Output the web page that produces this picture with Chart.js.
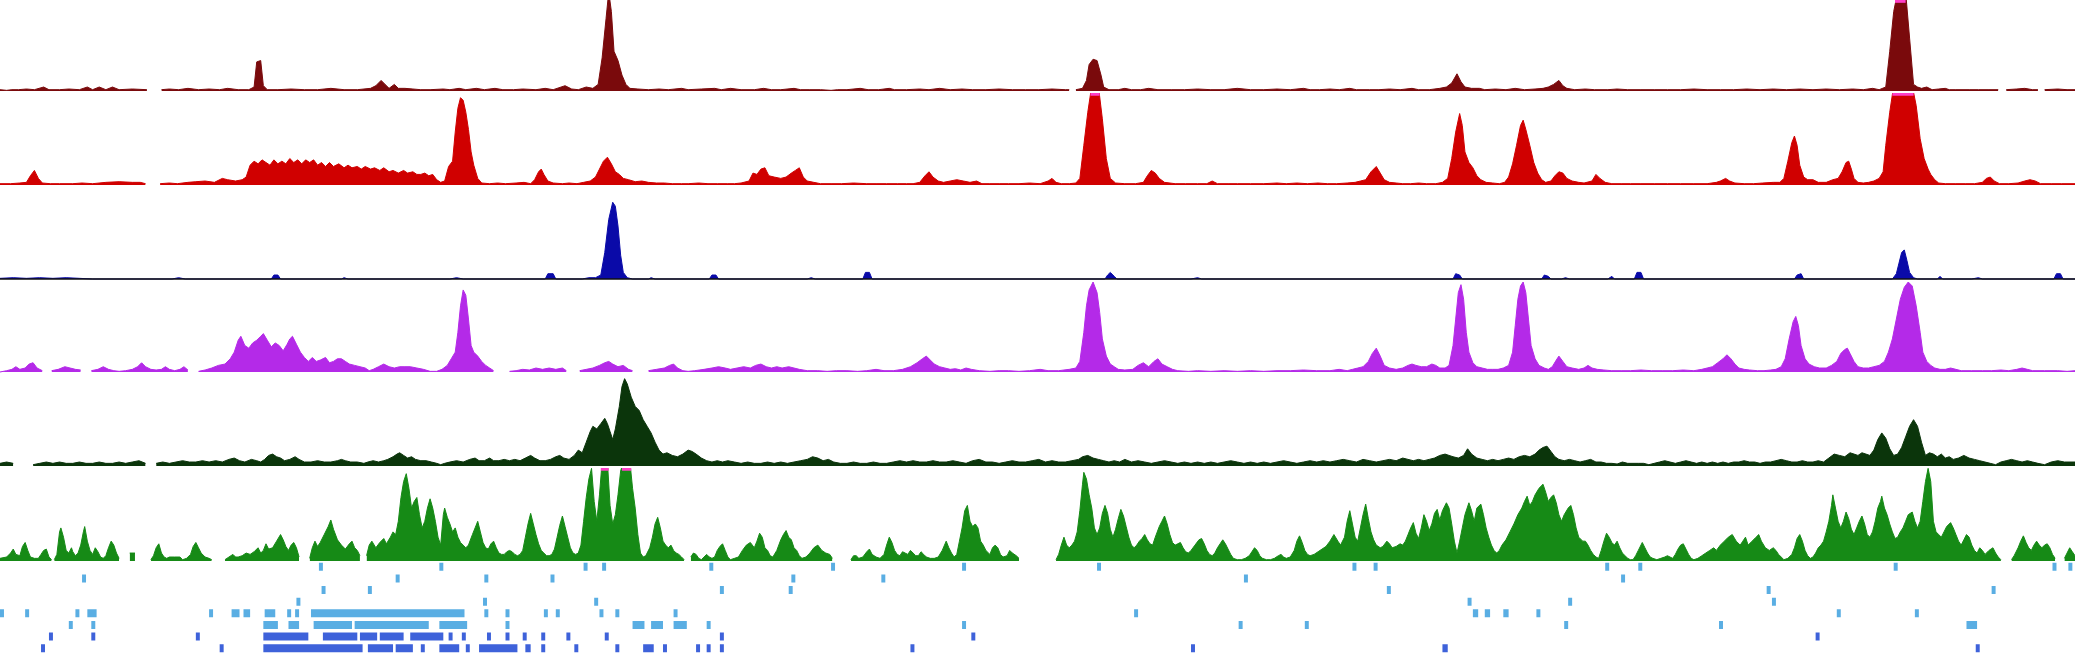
<!DOCTYPE html>
<html>
<head>
<meta charset="utf-8">
<title>Signal tracks</title>
<script src="https://cdn.jsdelivr.net/npm/chart.js@4.4.1/dist/chart.umd.min.js"></script>
<style>
  body { margin: 0; background: #fff; }
  #wrap { position: relative; width: 2075px; height: 654px; overflow: hidden; background: #fff; }
  #wrap canvas { position: absolute; left: 0; }
</style>
</head>
<body>
<div id="wrap"></div>
<script>
// x = position along the region (0 - 1568), y = track signal, null = no data

const maroonTrack = [[0,1],[5,0.5],[9,1],[14,1],[20,1.5],[26,1],[33,3],[37,1],[45,1],[52,1.5],[60,1],[66,3],[70,1],[75,3],[80,1],[85,3],[90,1],[100,1.5],[111,1],[112,null],[122,1],[128,1.5],[135,1],[142,2],[150,1],[158,1.5],[166,1],[172,2],[180,1],[188,1],[192,3],[194,22],[197,23],[199,4],[202,1],[210,1],[220,1.5],[230,1],[240,1],[250,2],[260,1],[270,1],[280,2],[284,4],[288,8],[291,5],[294,2],[298,5],[301,2],[306,2],[312,1.5],[318,1],[325,1],[335,1.5],[340,1],[347,2],[352,1],[360,2],[366,1],[374,2],[380,1],[388,1],[395,1.5],[405,1],[412,2],[418,1],[427,4],[432,1.5],[437,1],[443,3],[448,2],[452,5],[455,25],[458,55],[460,75],[462,60],[464,30],[467,23],[470,12],[473,5],[476,2],[482,1.5],[490,1],[498,1.5],[505,1],[515,2],[520,1],[530,1.5],[540,2],[545,1],[552,2],[560,1],[570,1],[577,2],[583,1],[590,1],[600,2],[605,1],[612,1],[620,1],[628,0.5],[633,1],[640,1],[650,2],[656,1],[664,1],[672,2],[676,1],[685,1],[695,1.5],[702,1],[710,2],[718,1],[727,1.5],[735,1],[745,1],[755,1.5],[765,1],[775,1],[785,1],[795,1.5],[805,1],[808,1],[809,null],[813,1],[818,2],[821,8],[823,20],[826,24],[829,23],[832,12],[834,3],[838,1],[845,1],[850,2],[855,1],[862,1],[868,2],[875,1],[885,1],[895,1],[905,1.5],[915,1],[925,1],[935,2],[945,1],[955,1],[965,1.5],[975,1],[985,2],[990,1],[997,1],[1005,1.5],[1012,1],[1020,2],[1025,1],[1035,1],[1042,1],[1050,1.5],[1058,1],[1067,2],[1072,1],[1080,1],[1088,2],[1093,3],[1097,6],[1101,13],[1104,7],[1107,3],[1112,2],[1118,2],[1122,1],[1130,1.5],[1138,1],[1145,2],[1152,1],[1160,1.5],[1166,2],[1170,3],[1174,5],[1178,8],[1181,4],[1184,2],[1190,1],[1198,1.5],[1205,1],[1215,1],[1222,1.5],[1230,1],[1240,1],[1250,1],[1260,1],[1270,1],[1280,1.5],[1290,1],[1300,1],[1310,1],[1320,1.5],[1330,1],[1340,1.5],[1350,1],[1360,1.5],[1370,1],[1380,1.5],[1390,1],[1400,1.5],[1408,1],[1415,2],[1420,1],[1425,3],[1428,30],[1431,60],[1434,75],[1440,75],[1443,40],[1446,5],[1449,3],[1452,2],[1456,3],[1460,1],[1465,1.5],[1470,2],[1473,1],[1478,1],[1488,1],[1495,1],[1503,1],[1510,1],[1513,null],[1516,1],[1524,1.5],[1530,2],[1536,1],[1540,1],[1542,null],[1545,1],[1555,1.5],[1562,1],[1568,1]];

const redTrack = [[0,1],[8,1],[15,1.5],[20,2],[23,7],[26,11],[29,5],[32,1.5],[38,1],[45,1],[55,1],[62,1.5],[70,1],[80,2],[90,2.5],[100,2],[106,2],[110,1],[112,null],[121,1],[128,1.5],[134,1],[142,2],[148,2.5],[155,3],[162,2],[168,5],[172,4],[178,3],[183,4],[186,6],[189,15],[192,18],[195,16],[198,19],[201,17],[204,15],[207,19],[210,16],[213,18],[216,16],[219,20],[222,17],[225,19],[228,16],[231,19],[234,17],[237,19],[240,15],[243,17],[246,14],[249,17],[252,14],[256,16],[260,13],[263,15],[266,13],[270,14],[273,12],[276,14],[280,12],[283,13],[287,11],[290,13],[294,10],[297,11],[301,9],[305,11],[308,9],[312,10],[315,8],[318,8],[321,9],[324,7],[327,8],[330,4],[333,2],[336,3],[339,14],[342,18],[344,40],[346,58],[348,66],[350,64],[352,55],[354,42],[356,25],[358,15],[361,5],[364,1.5],[370,1],[376,1.5],[382,1],[390,1.5],[396,2],[401,1],[404,4],[407,10],[409,12],[411,8],[414,3],[418,1.5],[425,1],[430,1.5],[436,1],[441,2],[446,3],[450,6],[453,12],[456,18],[459,21],[462,16],[465,10],[468,8],[471,5],[475,4],[480,2.5],[485,3],[490,2],[496,1.5],[502,1.5],[508,1],[515,1],[520,1],[528,1.5],[535,1],[542,1],[550,1],[555,1],[560,1.5],[566,3],[569,9],[572,8],[575,12],[578,13],[581,7],[585,6],[590,5],[594,6],[598,9],[601,11],[604,13],[607,6],[610,3],[615,2],[620,1],[628,1],[636,1],[645,1.5],[655,1],[662,1],[670,1],[678,1],[685,1],[690,1],[695,2],[699,7],[702,10],[705,6],[709,3],[713,2],[718,3],[723,4],[728,3],[733,2],[738,3],[742,1],[748,1],[755,1],[762,1],[770,1],[778,1.5],[786,1],[792,3],[795,5],[798,2],[802,1],[808,1],[813,1.5],[816,5],[819,30],[822,55],[825,75],[830,75],[833,50],[836,20],[839,5],[843,1.5],[850,1],[858,1],[864,2],[867,7],[870,11],[873,9],[876,5],[880,2],[888,1],[896,1],[905,1],[912,1],[916,3],[920,1],[928,1],[935,1],[945,1],[955,1],[965,1.5],[972,1],[980,1.5],[988,1],[996,1.5],[1003,1],[1010,1],[1018,1.5],[1024,2],[1028,3],[1032,4],[1036,10],[1040,14],[1043,9],[1046,4],[1050,2],[1055,1.5],[1060,1],[1066,1],[1072,1.5],[1078,1],[1085,1],[1090,2],[1094,5],[1097,20],[1100,40],[1103,54],[1105,45],[1107,25],[1110,17],[1113,13],[1116,7],[1119,4],[1123,2],[1128,1.5],[1133,1],[1137,2],[1140,6],[1143,16],[1146,30],[1149,45],[1151,49],[1153,42],[1156,30],[1159,17],[1162,9],[1165,4],[1168,2],[1172,3],[1175,7],[1178,10],[1181,9],[1184,5],[1188,3],[1193,2],[1197,1.5],[1203,3],[1206,8],[1209,5],[1213,2],[1218,1],[1225,1],[1232,1],[1240,1],[1250,1],[1260,1],[1270,1],[1280,1],[1290,1],[1297,2],[1300,3],[1304,5],[1307,3],[1311,1.5],[1318,1],[1325,1],[1332,1.5],[1340,2],[1345,2],[1348,5],[1351,18],[1354,32],[1356,37],[1358,30],[1360,15],[1363,6],[1366,4],[1370,4],[1374,2],[1380,2],[1385,4],[1389,5],[1392,10],[1395,17],[1397,18],[1399,12],[1401,5],[1404,2],[1408,1.5],[1412,2],[1416,3],[1420,5],[1423,10],[1425,30],[1428,55],[1431,75],[1445,75],[1448,60],[1451,35],[1454,20],[1457,12],[1459,8],[1462,4],[1465,1.5],[1470,1],[1478,1],[1485,1],[1492,1],[1498,2],[1501,5],[1504,6],[1507,3],[1511,1],[1518,1],[1525,1.5],[1530,3],[1534,4],[1538,3],[1542,1],[1550,1],[1558,1],[1568,1]];

const blueTrack = [[0,0.5],[10,1],[20,0.5],[30,1],[40,0.5],[50,1],[60,0.5],[70,0],[130,0],[135,1],[140,0],[205,0],[207,3],[210,3],[212,0],[258,0],[260,1],[263,0],[340,0],[345,1],[350,0],[412,0],[414,4],[418,4],[420,0],[440,0],[445,1],[450,1],[454,3],[457,20],[460,45],[463,58],[465,55],[467,40],[469,18],[471,5],[474,1],[478,0],[490,0],[492,1],[495,0],[536,0],[538,3],[541,3],[543,0],[610,0],[613,1],[616,0],[652,0],[654,5],[657,5],[659,0],[835,0],[837,3],[839,5],[842,2],[844,0],[900,0],[905,1],[908,0],[1098,0],[1100,4],[1103,3],[1105,0],[1165,0],[1167,3],[1170,2],[1172,0],[1180,0],[1183,1],[1186,0],[1215,0],[1218,2],[1220,0],[1235,0],[1237,5],[1240,5],[1242,0],[1356,0],[1358,3],[1361,4],[1363,0],[1430,0],[1433,4],[1435,12],[1437,20],[1439,22],[1441,14],[1443,5],[1446,1],[1449,0],[1464,0],[1466,2],[1468,0],[1490,0],[1495,1],[1498,0],[1552,0],[1554,4],[1557,4],[1559,0],[1568,0]];
const blueBase = [[0,0],[1568,0]];

const magentaTrack = [[0,0],[5,1],[9,2],[12,4],[15,2],[19,3],[22,6],[25,7],[28,3],[32,1],[34,null],[39,1],[44,2],[49,4],[53,3],[57,2],[61,1.5],[63,null],[69,1],[74,2],[78,4],[82,2],[86,1],[90,0.5],[95,1],[100,2],[104,4],[107,7],[110,4],[114,2],[118,1.5],[122,2],[125,4],[128,2],[132,1],[136,2],[139,4],[142,1.5],[144,null],[150,0.5],[155,1.5],[160,3],[165,5],[170,6],[174,10],[177,15],[180,24],[182,27],[185,20],[188,18],[191,22],[194,24],[197,27],[199,29],[202,24],[205,19],[208,22],[211,20],[214,16],[217,21],[219,25],[221,27],[224,21],[227,15],[230,11],[233,8],[236,11],[239,8],[242,9],[246,11],[249,7],[252,8],[255,10],[258,10],[261,8],[264,6],[268,5],[272,4],[276,3],[279,1],[282,2],[286,4],[290,6],[294,4],[298,3],[302,4],[306,4],[310,4],[315,3],[320,2],[325,0.5],[330,0.5],[334,2],[338,5],[341,10],[344,15],[346,30],[348,50],[350,62],[352,58],[354,40],[356,20],[358,15],[361,12],[364,8],[367,5],[370,3],[373,1],[375,null],[385,0.5],[390,1],[395,2],[400,1.5],[405,3],[410,2],[415,3],[420,2],[425,3],[428,1],[430,null],[438,1],[443,2],[448,3],[453,5],[457,7],[460,8],[463,6],[467,4],[471,5],[475,2],[478,1],[481,null],[490,1],[496,2],[502,3],[506,5],[509,6],[512,3],[516,1],[520,0.5],[525,1],[532,2],[538,3],[543,4],[548,3],[552,2],[557,3],[562,4],[567,3],[571,5],[575,6],[579,4],[583,3],[587,4],[591,3],[596,4],[600,3],[604,2],[610,1],[618,1],[625,0.5],[632,1],[640,1],[648,0.5],[655,1],[662,2],[668,1],[675,1],[682,2],[688,4],[693,7],[697,10],[700,12],[703,9],[706,6],[710,4],[714,3],[718,2],[722,2.5],[726,1.5],[730,3],[734,2],[740,1],[748,0.5],[755,1],[762,1],[770,0.5],[778,1],[786,2],[792,1],[800,1],[808,2],[813,3],[816,8],[819,30],[821,50],[823,62],[826,68],[829,60],[831,45],[833,25],[836,12],[839,6],[842,4],[845,2],[850,1.5],[856,2],[860,5],[864,7],[868,4],[872,8],[875,10],[878,6],[882,4],[886,2],[890,1],[898,0.5],[905,1],[915,0.5],[925,1],[935,0.5],[945,1],[955,0.5],[965,1],[975,1],[985,1.5],[995,1],[1005,1],[1012,2],[1018,1],[1022,2],[1026,3],[1030,4],[1034,8],[1037,14],[1040,18],[1043,12],[1046,5],[1050,3],[1055,2],[1060,3],[1064,5],[1067,6],[1070,5],[1074,4],[1078,4],[1082,6],[1085,5],[1088,3],[1092,3],[1095,5],[1098,20],[1100,40],[1102,60],[1104,66],[1106,55],[1108,30],[1110,15],[1113,7],[1116,4],[1120,3],[1124,2],[1128,2],[1132,2],[1136,3],[1140,5],[1143,15],[1145,35],[1147,55],[1149,65],[1151,68],[1153,60],[1155,40],[1157,20],[1160,10],[1163,5],[1167,3],[1170,2],[1173,4],[1176,9],[1178,12],[1181,8],[1184,4],[1188,3],[1193,2],[1197,3],[1200,5],[1203,3],[1207,2],[1212,1.5],[1218,1],[1225,1],[1232,1],[1240,1.5],[1248,1],[1256,1],[1264,1],[1272,1.5],[1280,1],[1286,2],[1290,3],[1294,4],[1298,7],[1302,10],[1305,13],[1308,10],[1311,6],[1314,3],[1318,2],[1322,1.5],[1328,1],[1333,1],[1338,1.5],[1342,2],[1346,4],[1349,10],[1352,25],[1355,38],[1357,42],[1359,35],[1361,20],[1364,10],[1367,6],[1371,4],[1375,3],[1380,3],[1384,5],[1388,8],[1391,14],[1394,17],[1396,18],[1398,14],[1401,8],[1404,4],[1408,3],[1412,3],[1416,4],[1420,5],[1424,8],[1427,15],[1430,25],[1433,40],[1436,55],[1439,64],[1442,68],[1445,65],[1448,50],[1451,30],[1453,15],[1456,8],[1459,5],[1462,3],[1466,2],[1470,2],[1474,3],[1478,2],[1482,1],[1490,1],[1498,1],[1505,1],[1512,1.5],[1518,1],[1524,2],[1528,3],[1532,2],[1536,1],[1545,1],[1555,1],[1562,0.5],[1568,1]];

const darkGreenTrack = [[0,2],[5,3],[10,2],[13,null],[25,1],[30,2],[35,3],[40,2],[45,3],[50,2],[55,2],[60,3],[65,2],[70,2],[75,3],[80,2],[85,2],[90,3],[95,2],[100,3],[105,4],[110,2],[113,null],[118,2],[123,3],[128,2],[133,3],[138,4],[143,3],[148,3],[153,4],[158,3],[163,4],[168,3],[173,5],[177,6],[181,4],[185,3],[190,5],[194,4],[197,3],[200,5],[203,8],[206,9],[209,7],[212,6],[215,4],[219,5],[223,7],[226,5],[230,3],[235,3],[240,4],[245,3],[250,3],[255,4],[258,5],[261,4],[265,3],[270,3],[275,2],[278,3],[282,4],[286,3],[290,4],[293,5],[297,7],[300,9],[302,10],[305,8],[308,6],[311,7],[314,5],[318,4],[322,4],[326,3],[330,2],[333,1],[336,2],[340,3],[345,4],[350,3],[355,5],[359,6],[362,4],[366,4],[370,6],[373,4],[377,4],[381,5],[385,4],[389,5],[393,4],[397,6],[401,8],[404,6],[408,4],[412,4],[416,5],[420,7],[423,8],[426,6],[430,5],[434,8],[437,12],[440,10],[443,18],[446,26],[448,30],[451,28],[454,32],[457,36],[459,32],[461,26],[463,20],[465,28],[468,45],[470,60],[472,66],[474,62],[477,52],[480,45],[483,42],[486,35],[489,30],[492,25],[495,18],[498,12],[501,9],[504,10],[508,8],[512,7],[516,9],[520,12],[523,11],[526,9],[530,6],[534,4],[538,3],[542,4],[546,3],[550,4],[555,3],[560,2],[565,3],[570,2],[575,2],[580,3],[585,2],[590,3],[595,2],[600,3],[605,4],[610,5],[614,7],[618,6],[622,4],[626,5],[630,3],[635,2],[640,2],[645,3],[650,2],[655,2],[660,3],[665,2],[670,2],[675,3],[680,4],[685,3],[690,4],[695,3],[700,3],[705,4],[710,3],[715,3],[720,4],[725,3],[730,2],[735,4],[740,5],[745,3],[750,3],[755,2],[760,3],[765,4],[770,3],[775,3],[780,4],[785,5],[790,3],[795,4],[800,3],[805,3],[810,4],[815,5],[818,7],[822,8],[826,6],[830,5],[834,4],[838,3],[842,4],[846,3],[850,5],[855,3],[860,4],[865,3],[870,2],[875,3],[880,4],[885,3],[890,2],[895,3],[900,2],[905,3],[910,2],[915,3],[920,2],[925,3],[930,4],[935,3],[940,2],[945,3],[950,2],[955,3],[960,2],[965,3],[970,4],[975,3],[980,2],[985,3],[990,4],[995,3],[1000,4],[1005,3],[1010,4],[1015,5],[1020,4],[1025,3],[1030,5],[1035,4],[1040,3],[1045,4],[1050,5],[1055,4],[1060,6],[1064,5],[1068,4],[1072,5],[1076,4],[1080,5],[1084,6],[1088,8],[1092,9],[1095,8],[1098,7],[1102,6],[1106,8],[1109,13],[1112,9],[1116,6],[1120,5],[1124,4],[1128,5],[1132,4],[1136,5],[1140,6],[1144,5],[1148,7],[1152,8],[1156,7],[1160,9],[1163,12],[1166,14],[1169,15],[1172,11],[1175,7],[1178,5],[1182,4],[1186,5],[1190,4],[1194,3],[1198,4],[1202,5],[1206,3],[1210,3],[1214,2],[1218,2],[1222,1.5],[1226,3],[1230,2],[1234,2],[1238,2],[1242,2],[1246,1],[1250,2],[1254,3],[1258,4],[1262,3],[1266,2],[1270,3],[1274,4],[1278,3],[1282,2],[1286,3],[1290,2],[1294,3],[1298,2],[1302,3],[1306,2],[1310,3],[1314,3],[1318,4],[1322,3],[1326,3],[1330,2],[1334,3],[1338,3],[1342,4],[1346,5],[1350,4],[1354,3],[1358,3],[1362,4],[1366,3],[1370,3],[1374,4],[1378,3],[1382,6],[1386,9],[1390,8],[1394,7],[1398,10],[1401,9],[1404,8],[1407,10],[1410,9],[1413,8],[1416,12],[1419,20],[1422,25],[1425,21],[1428,13],[1431,8],[1434,9],[1437,14],[1440,22],[1443,30],[1446,35],[1449,30],[1452,18],[1455,8],[1458,10],[1461,9],[1464,7],[1467,9],[1470,6],[1473,7],[1476,5],[1480,6],[1484,8],[1488,6],[1492,5],[1496,4],[1500,3],[1504,2],[1508,1],[1512,3],[1516,4],[1520,5],[1524,4],[1528,3],[1532,4],[1536,3],[1540,2],[1545,1],[1550,3],[1555,4],[1560,3],[1568,3]];

const greenTrack = [[0,2],[5,3],[8,6],[10,9],[12,5],[15,4],[17,11],[19,14],[21,8],[23,3],[26,2],[29,2],[31,5],[33,8],[35,9],[37,3],[39,1],[40,null],[41,1],[43,5],[45,22],[46,25],[48,18],[50,8],[52,6],[54,10],[55,7],[57,4],[59,6],[61,12],[63,22],[64,26],[66,15],[68,8],[70,5],[72,10],[74,7],[76,3],[78,2],[80,4],[82,10],[84,15],[86,12],[88,6],[90,2],[92,null],[98,6],[102,6],[103,null],[114,1],[116,4],[118,10],[120,13],[122,6],[124,3],[126,2],[128,3],[132,3],[136,3],[138,1],[141,2],[144,5],[146,11],[148,14],[150,10],[152,6],[155,3],[158,2],[160,1],[163,null],[170,1],[173,3],[176,5],[178,3],[180,3],[183,4],[186,6],[189,5],[192,7],[195,10],[197,6],[199,8],[201,13],[203,9],[206,10],[209,15],[212,20],[214,16],[216,11],[218,8],[220,12],[222,14],[224,10],[226,3],[228,null],[234,2],[236,10],[238,15],[240,11],[242,14],[245,20],[248,26],[250,31],[252,24],[255,16],[258,12],[261,9],[264,13],[266,15],[268,10],[270,8],[272,4],[274,null],[277,4],[279,12],[281,15],[284,10],[287,14],[290,17],[292,13],[295,18],[297,22],[299,20],[301,30],[303,48],[305,60],[307,66],[309,55],[311,40],[313,45],[315,48],[317,35],[319,25],[321,30],[323,40],[325,47],[327,40],[329,30],[331,18],[333,12],[335,35],[336,40],[338,33],[340,28],[342,22],[344,25],[346,18],[348,14],[350,12],[352,10],[354,12],[357,20],[359,25],[361,30],[363,22],[365,14],[367,10],[369,9],[371,13],[373,15],[375,10],[377,6],[379,5],[381,5],[383,7],[385,8],[387,7],[389,5],[391,4],[393,5],[395,8],[397,18],[399,28],[401,36],[403,28],[405,20],[407,13],[409,8],[411,6],[413,4],[415,4],[417,5],[419,9],[421,18],[423,27],[425,34],[427,26],[429,18],[431,10],[433,6],[435,5],[437,6],[439,12],[441,30],[443,48],[445,62],[447,70],[449,45],[451,30],[453,50],[455,75],[459,75],[461,42],[463,28],[465,35],[467,50],[469,68],[471,75],[476,75],[478,55],[480,40],[482,20],[484,6],[486,3],[488,4],[491,10],[493,18],[495,28],[497,33],[499,25],[501,15],[503,12],[505,10],[507,12],[509,8],[511,6],[513,5],[515,3],[517,1],[519,null],[522,3],[524,6],[526,5],[528,2],[530,1],[532,3],[534,5],[536,3],[538,2],[540,3],[542,8],[544,11],[546,13],[548,8],[550,3],[552,1],[555,2],[558,3],[561,8],[564,12],[567,14],[570,10],[572,15],[574,21],[576,18],[578,10],[580,8],[582,4],[584,3],[587,8],[590,16],[592,20],[594,23],[596,18],[598,16],[600,10],[602,8],[604,4],[606,2],[609,3],[612,6],[615,10],[618,12],[621,8],[624,6],[627,5],[629,2],[631,null],[643,1],[645,4],[647,4],[649,2],[652,3],[655,7],[657,9],[659,5],[662,3],[665,2],[668,5],[670,12],[672,18],[674,14],[676,8],[678,5],[680,4],[682,7],[684,6],[686,5],[688,8],[690,6],[692,4],[694,4],[696,7],[698,5],[700,3],[703,2],[706,2],[709,3],[712,8],[715,15],[717,10],[719,6],[721,3],[723,5],[725,15],[727,25],[729,38],[731,42],[733,30],[735,26],[737,28],[739,25],[741,15],[743,12],[745,8],[748,5],[750,10],[752,12],[754,10],[756,5],[758,3],[761,4],[763,8],[765,6],[768,4],[770,2],[772,null],[798,1],[800,5],[802,12],[804,18],[806,12],[808,10],[810,12],[812,15],[814,22],[816,38],[818,58],[819,67],[821,62],[823,50],[825,40],[827,25],[829,20],[831,25],[833,36],[835,42],[837,36],[839,24],[841,18],[843,24],[845,32],[847,39],[849,34],[851,26],[853,18],[855,12],[857,10],[859,12],[861,15],[863,17],[865,20],[867,16],[869,13],[871,12],[873,18],[876,26],[878,30],[880,34],[882,28],[884,20],[886,14],[888,12],[890,13],[892,14],[894,10],[896,7],[898,6],[900,8],[903,12],[906,16],[908,17],[910,13],[912,8],[914,5],[916,4],[918,6],[920,10],[922,13],[924,16],[926,13],[928,9],[930,5],[932,2],[935,1],[938,1],[941,2],[944,4],[946,7],[948,10],[950,8],[952,4],[954,2],[957,1],[960,1],[963,2],[966,4],[968,5],[970,3],[972,2],[975,3],[978,8],[980,15],[982,19],[984,14],[986,8],[988,5],[990,4],[993,5],[996,7],[999,9],[1002,11],[1005,15],[1008,20],[1011,15],[1013,12],[1016,18],[1018,30],[1020,38],[1022,28],[1024,18],[1026,15],[1028,25],[1030,35],[1032,43],[1034,32],[1036,22],[1038,16],[1040,12],[1043,10],[1045,11],[1048,15],[1050,13],[1052,10],[1055,11],[1058,13],[1060,12],[1062,15],[1064,20],[1066,25],[1068,29],[1070,21],[1072,17],[1074,25],[1076,35],[1078,30],[1080,23],[1082,28],[1084,36],[1086,39],[1088,31],[1090,38],[1093,44],[1095,40],[1097,28],[1099,15],[1101,6],[1103,15],[1105,25],[1107,35],[1110,44],[1112,38],[1114,30],[1116,40],[1119,43],[1121,35],[1123,25],[1125,18],[1127,12],[1129,8],[1131,6],[1133,8],[1135,12],[1138,16],[1141,22],[1144,28],[1147,35],[1150,40],[1152,45],[1154,49],[1156,42],[1158,45],[1160,50],[1163,55],[1166,58],[1168,52],[1170,45],[1172,48],[1174,50],[1176,44],[1178,35],[1180,30],[1182,35],[1185,40],[1187,42],[1189,35],[1191,25],[1193,18],[1196,15],[1198,15],[1200,12],[1202,8],[1204,5],[1206,3],[1208,2],[1210,8],[1212,15],[1214,21],[1216,18],[1218,14],[1220,12],[1222,15],[1224,10],[1226,6],[1228,4],[1230,2],[1232,1],[1234,1],[1236,4],[1238,8],[1241,14],[1243,10],[1245,6],[1247,3],[1249,2],[1252,1],[1255,2],[1258,3],[1260,4],[1262,3],[1264,2],[1266,5],[1268,9],[1270,12],[1272,13],[1274,9],[1276,5],[1278,2],[1280,1],[1283,2],[1286,4],[1289,6],[1292,8],[1295,10],[1297,8],[1300,12],[1303,15],[1306,18],[1309,20],[1312,15],[1315,12],[1317,15],[1319,18],[1321,12],[1324,15],[1327,18],[1329,20],[1331,15],[1334,10],[1337,8],[1340,10],[1342,8],[1344,5],[1346,3],[1348,1],[1351,2],[1354,5],[1356,10],[1358,17],[1360,20],[1362,15],[1364,8],[1366,4],[1368,2],[1370,3],[1372,6],[1374,10],[1376,12],[1378,15],[1380,22],[1382,30],[1384,42],[1385,50],[1387,40],[1389,30],[1391,25],[1393,30],[1395,37],[1397,32],[1399,24],[1401,20],[1403,25],[1405,30],[1407,34],[1409,28],[1411,20],[1413,18],[1415,22],[1417,30],[1419,40],[1421,45],[1422,49],[1424,40],[1426,35],[1428,28],[1430,22],[1432,17],[1434,18],[1436,22],[1438,25],[1440,30],[1442,35],[1445,37],[1447,30],[1449,25],[1451,30],[1453,45],[1455,60],[1457,70],[1459,60],[1461,30],[1463,22],[1465,20],[1467,18],[1469,22],[1471,26],[1474,29],[1476,25],[1478,20],[1480,15],[1482,12],[1484,16],[1486,20],[1488,18],[1490,12],[1492,8],[1494,6],[1496,10],[1498,8],[1500,5],[1503,8],[1506,10],[1508,6],[1510,3],[1512,1],[1514,null],[1520,1],[1522,4],[1525,10],[1527,15],[1529,19],[1531,14],[1533,10],[1535,8],[1537,12],[1539,15],[1541,12],[1543,10],[1545,12],[1547,13],[1549,10],[1551,5],[1553,2],[1555,null],[1560,2],[1562,6],[1564,10],[1566,7],[1568,4]];

// ranges where a track goes above its scale (pink tips)
const maroonClips = [[1432,1440]];
const redClips = [[824,831],[1430,1446]];
const greenClips = [[454,460],[470,477]];

// feature rows under the tracks: [start, end]
const lightRows = [
  [[241,244],[332,335],[441,444],[455,458],[536,539],[628,631],[727,730],[829,832],[1022,1025],[1038,1041],[1213,1216],[1238,1241],[1431,1434],[1551,1554],[1563,1566]],
  [[62,65],[299,302],[366,369],[416,419],[598,601],[666,669],[940,943],[1225,1228]],
  [[243,246],[278,281],[544,547],[596,599],[1048,1051],[1335,1338],[1505,1508]],
  [[224,227],[365,368],[449,452],[1109,1112],[1185,1188],[1339,1342]],
  [[0,3],[19,22],[57,60],[66,73],[158,161],[175,181],[184,189],[200,208],[217,220],[223,226],[235,351],[366,369],[382,385],[411,414],[420,423],[453,456],[465,468],[509,512],[857,860],[1113,1117],[1122,1126],[1136,1140],[1161,1164],[1388,1391],[1447,1450]],
  [[52,55],[69,72],[199,210],[218,226],[237,266],[268,324],[332,353],[382,385],[478,487],[492,501],[509,519],[534,537],[727,730],[936,939],[986,989],[1182,1185],[1299,1302],[1486,1494]]
];
const blueRows = [
  [[37,40],[69,72],[148,151],[199,233],[244,270],[272,285],[287,305],[310,335],[339,342],[349,352],[368,371],[382,385],[395,398],[409,412],[428,431],[457,460],[544,547],[734,737],[1372,1375]],
  [[31,34],[166,169],[199,274],[278,297],[299,312],[318,321],[332,347],[352,355],[362,391],[397,401],[409,412],[434,437],[465,468],[486,494],[501,504],[526,529],[534,537],[544,547],[688,691],[900,903],[1090,1094],[1493,1496]]
];

const span = 1568;
const k = 2075 / span;

// panel top / baseline in page pixels
const panels = [
  { top: 0, base: 91 },
  { top: 93, base: 185 },
  { top: 187, base: 279 },
  { top: 281, base: 372 },
  { top: 374, base: 466 },
  { top: 468, base: 561 }
];

function addCanvas(top, height) {
    const c = document.createElement('canvas');
    c.width = 2075;
    c.height = height;
    c.style.top = top + 'px';
    document.getElementById('wrap').appendChild(c);
    return c.getContext('2d');
}

function toXY(pts) {
    return pts.map(p => ({ x: p[0], y: p[1] }));
}

function baseOptions(yMin, yMax, reverse) {
    return {
        responsive: false,
        animation: false,
        events: [],
        layout: { padding: 0 },
        plugins: { legend: { display: false }, tooltip: { enabled: false } },
        elements: { point: { radius: 0 }, line: { tension: 0 } },
        scales: {
            x: { type: 'linear', min: 0, max: span, display: false },
            y: { type: 'linear', min: yMin, max: yMax, reverse: !!reverse, display: false }
        }
    };
}

function drawTrack(points, color, panel, clips, baseLine) {
    const h = panel.base - panel.top + 3;
    const yMax = (panel.base - panel.top) / k;
    const yMin = -3 / k;
    const ctx = addCanvas(panel.top, h);

    const datasets = [];
    if (clips) {
        const clipPts = [];
        clips.forEach(c => {
            clipPts.push({ x: c[0], y: yMax - 1 }, { x: c[1], y: yMax - 1 }, { x: c[1], y: null });
        });
        datasets.push({ data: clipPts, borderColor: '#ff3fc8', borderWidth: 3, fill: false, borderCapStyle: 'butt' });
    }
    // first dataset is painted last, so the black baseline sits on top
    if (baseLine) {
        datasets.push({ data: toXY(baseLine), borderColor: '#111111', borderWidth: 1.5, fill: false });
    }
    datasets.push({
        data: toXY(points),
        borderColor: color,
        backgroundColor: color,
        borderWidth: 1,
        fill: 'origin'
    });

    new Chart(ctx, { type: 'line', data: { datasets }, options: baseOptions(yMin, yMax) });
}

drawTrack(maroonTrack, '#7a0a0c', panels[0], maroonClips);
drawTrack(redTrack, '#d00000', panels[1], redClips);
drawTrack(blueTrack, '#0a0aa8', panels[2], null, blueBase);
drawTrack(magentaTrack, '#b42ae8', panels[3]);
drawTrack(darkGreenTrack, '#0b350b', panels[4]);
drawTrack(greenTrack, '#168a16', panels[5], greenClips);

// feature rows: each block is a thick horizontal segment
function rowData(blocks, row) {
    const out = [];
    blocks.forEach(b => {
        out.push({ x: b[0], y: row }, { x: b[1], y: row }, { x: b[1], y: null });
    });
    return out;
}

const rowSets = [];
lightRows.forEach((blocks, i) => {
    rowSets.push({ data: rowData(blocks, i + 1), borderColor: '#5aaee3', borderWidth: 8, borderCapStyle: 'butt', fill: false });
});
blueRows.forEach((blocks, i) => {
    rowSets.push({ data: rowData(blocks, lightRows.length + i + 1), borderColor: '#3e62da', borderWidth: 8, borderCapStyle: 'butt', fill: false });
});

const rowCtx = addCanvas(561, 93);
new Chart(rowCtx, {
    type: 'line',
    data: { datasets: rowSets },
    options: baseOptions(0.5, 8.5, true)
});
</script>
</body>
</html>
